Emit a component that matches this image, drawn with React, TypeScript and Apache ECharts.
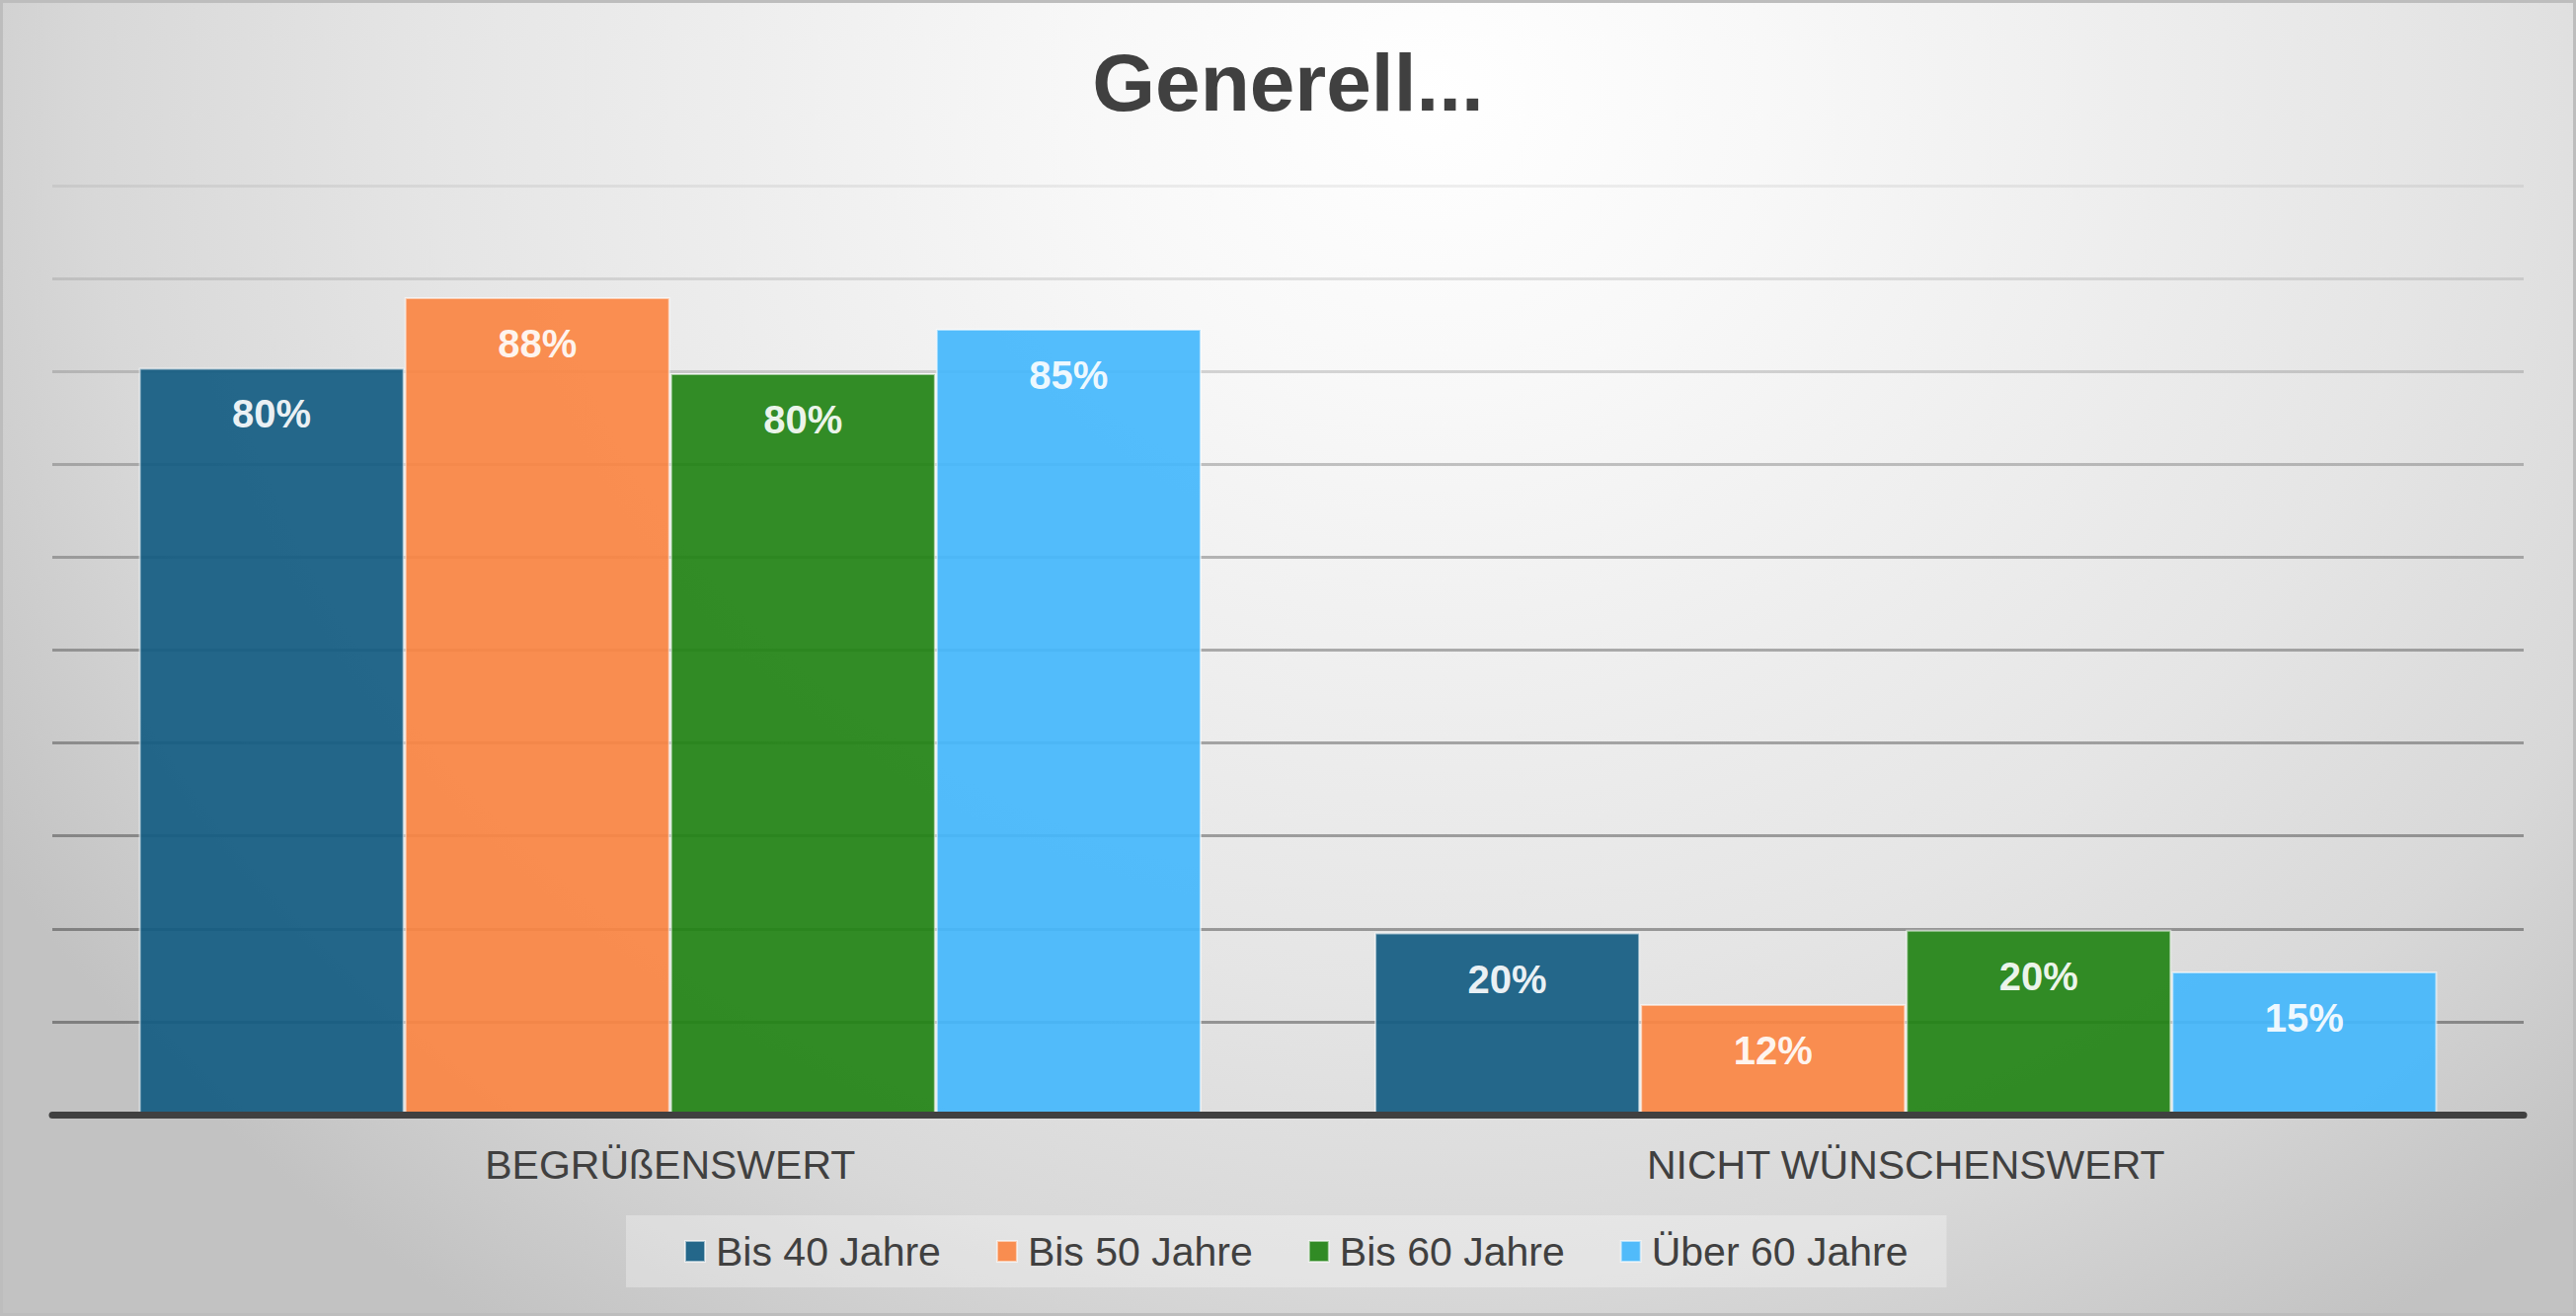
import React, { useEffect, useRef } from "react";
import * as echarts from "echarts";

const categories = ["BEGRÜßENSWERT", "NICHT WÜNSCHENSWERT"];
const seriesNames = ["Bis 40 Jahre", "Bis 50 Jahre", "Bis 60 Jahre", "Über 60 Jahre"];
const bis40 = [0.804, 0.196];
const bis50 = [0.88, 0.119];
const bis60 = [0.798, 0.199];
const ueber60 = [0.846, 0.154];
const seriesColors = ["#135C82", "#FB8643", "#228315", "#44B7FC"];
const gridLineColors = [
  "rgba(0,0,0,0)",
  "rgba(0,0,0,0.35)",
  "rgba(0,0,0,0.34)",
  "rgba(0,0,0,0.33)",
  "rgba(0,0,0,0.31)",
  "rgba(0,0,0,0.29)",
  "rgba(0,0,0,0.26)",
  "rgba(0,0,0,0.22)",
  "rgba(0,0,0,0.15)",
  "rgba(0,0,0,0.10)",
  "rgba(0,0,0,0.06)",
];

const FONT = "'Liberation Sans', Arial, sans-serif";

export default function App() {
  const ref = useRef<HTMLDivElement>(null);

  useEffect(() => {
    document.body.style.margin = "0";
    document.body.style.overflow = "hidden";
    if (!ref.current) return;
    const chart = echarts.init(ref.current, undefined, { renderer: "svg" });
    const values = [bis40, bis50, bis60, ueber60];
    chart.setOption({
      animation: false,
      backgroundColor: "transparent",
      title: {
        text: "Generell...",
        left: "center",
        top: 37,
        textStyle: { fontSize: 82, fontWeight: "bold", color: "#404040", fontFamily: FONT },
      },
      legend: {
        data: seriesNames,
        top: 1231,
        left: 634,
        icon: "rect",
        itemWidth: 20,
        itemHeight: 21,
        itemGap: 56,
        padding: [16, 39, 16, 59],
        backgroundColor: "rgba(255,255,255,0.3)",
        textStyle: { fontSize: 41, color: "#404040", fontFamily: FONT, padding: [0, 0, 0, 6] },
      },
      grid: { left: 53, right: 53, top: 188, bottom: 204, containLabel: false },
      xAxis: {
        type: "category",
        data: categories,
        z: 10,
        axisLine: { show: true, lineStyle: { color: "#404040", width: 7 } },
        axisTick: { show: false },
        axisLabel: { margin: 30, fontSize: 41, color: "#404040", fontFamily: FONT },
        splitLine: { show: false },
      },
      yAxis: {
        type: "value",
        min: 0,
        max: 1,
        interval: 0.1,
        axisLine: { show: false },
        axisTick: { show: false },
        axisLabel: { show: false },
        splitLine: { show: true, lineStyle: { color: gridLineColors, width: 3 } },
      },
      series: seriesNames.map((name, i) => ({
        name,
        type: "bar",
        data: values[i],
        barGap: "0%",
        barCategoryGap: "14%",
        itemStyle: {
          color: seriesColors[i],
          opacity: 0.92,
          borderColor: "rgba(255,255,255,0.6)",
          borderWidth: 2,
        },
        label: {
          show: true,
          position: "insideTop",
          distance: 27,
          color: "#ffffff",
          fontSize: 40,
          fontWeight: "bold",
          fontFamily: FONT,
          formatter: (p: any) => Math.round(p.value * 100) + "%",
        },
      })),
    });
    return () => chart.dispose();
  }, []);

  return (
    <div
      style={{
        position: "relative",
        width: 2609,
        height: 1333,
        overflow: "hidden",
        background:
          "radial-gradient(ellipse 1700px 1500px at 1450px 100px, #ffffff 0%, #f8f8f8 20%, #e5e5e5 60%, #d8d8d8 80%, #cdcdcd 90%, #c2c2c2 100%)",
        boxShadow: "inset 0 0 0 3px #bdbdbd",
      }}
    >
      <div ref={ref} style={{ position: "absolute", left: 0, top: 0, width: 2609, height: 1333 }} />
    </div>
  );
}
